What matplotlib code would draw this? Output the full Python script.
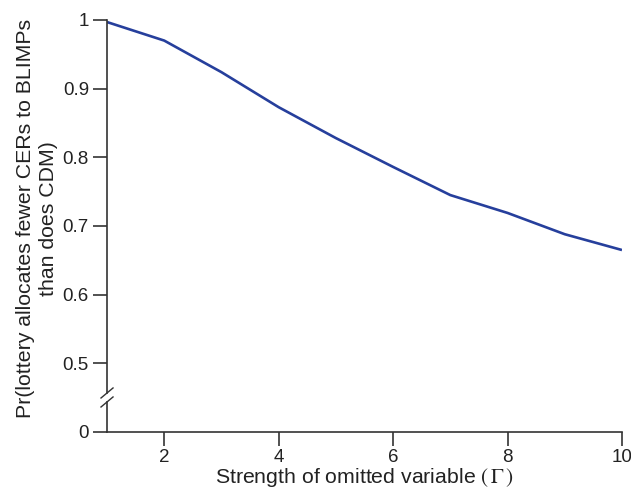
import matplotlib
matplotlib.use("Agg")
import matplotlib.pyplot as plt

plt.rcParams['font.family'] = ['Liberation Sans', 'DejaVu Sans']
plt.rcParams['mathtext.fontset'] = 'stix'

gamma = [1, 2, 3, 4, 5, 6, 7, 8, 9, 10]
prob = [0.997, 0.970, 0.924, 0.873, 0.828, 0.786, 0.745, 0.719, 0.688, 0.665]

y_ticks = [0.4, 0.5, 0.6, 0.7, 0.8, 0.9, 1.0]
y_tick_labels = ['0', '0.5', '0.6', '0.7', '0.8', '0.9', '1']
x_ticks = [2, 4, 6, 8, 10]

axis_col = '#333333'
line_col = '#263f9c'

fig = plt.figure(figsize=(6.31, 4.91), dpi=100)
ax = fig.add_axes([0.1696, 0.1202, 0.8161, 0.8391])

ax.plot(gamma, prob, color=line_col, linewidth=1.9, solid_capstyle='butt')

ax.set_xlim(1, 10)
ax.set_ylim(0.4, 1.0)
ax.set_xticks(x_ticks)
ax.set_yticks(y_ticks)
ax.set_yticklabels(y_tick_labels)

for s in ['top', 'right', 'left']:
    ax.spines[s].set_visible(False)
ax.spines['bottom'].set_color(axis_col)
ax.spines['bottom'].set_linewidth(1.2)

# y axis drawn in two pieces with a break
ax.plot([1, 1], [0.4, 0.4437], color=axis_col, lw=1.2, clip_on=False)
ax.plot([1, 1], [0.4568, 1.0], color=axis_col, lw=1.2, clip_on=False)
for yb in [0.4437, 0.4568]:
    ax.plot([0.895, 1.105], [yb - 0.0073, yb + 0.0073], color=axis_col, lw=1.0,
            clip_on=False)

ax.tick_params(axis='both', direction='out', length=10, width=1.2,
               color=axis_col, labelsize=13.5, labelcolor='#222222')
ax.tick_params(axis='y', pad=3)
ax.tick_params(axis='x', pad=2)

ax.set_xlabel(r'Strength of omitted variable $(\,\Gamma\,)$', fontsize=15.3,
              color='#222222', labelpad=0)
ax.set_ylabel('Pr(lottery allocates fewer CERs to BLIMPs\nthan does CDM)',
              fontsize=15.3, color='#222222', linespacing=1.3)
ax.yaxis.set_label_coords(-0.095, 0.519)

fig.savefig('out.png', dpi=100)
